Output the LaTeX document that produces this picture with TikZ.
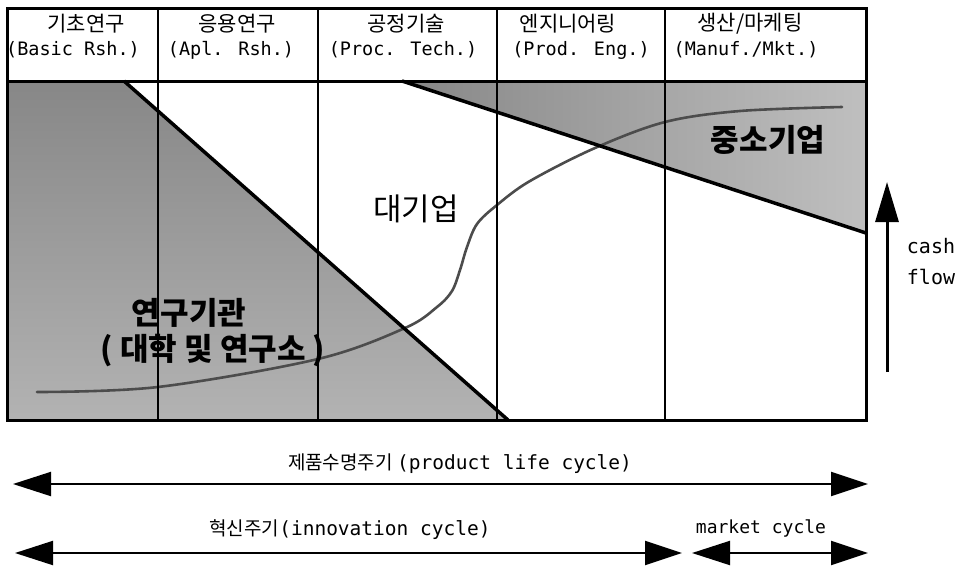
\documentclass[tikz,border=0pt]{standalone}
\usepackage{fontspec}
\setmainfont{Noto Sans CJK KR}
\newfontfamily\mono{DejaVu Sans Mono}
\usetikzlibrary{arrows.meta}
\begin{document}
\begin{tikzpicture}[x=1pt,y=-1pt,
  hdrk/.style={font=\fontsize{21}{23}\selectfont, inner sep=0pt},
  hdrl/.style={font=\mono\fontsize{18.5}{20}\selectfont, inner sep=0pt},
  biglbl/.style={font=\fontsize{31}{34}\selectfont, inner sep=0pt},
  boldlbl/.style={font=\bfseries\fontsize{31}{34}\selectfont, inner sep=0pt},
  cyclbl/.style={font=\fontsize{19}{21}\selectfont, inner sep=0pt},
  cycarrow/.style={line width=2pt, {Triangle[length=38pt,width=24pt]}-{Triangle[length=37pt,width=24pt]}},
  frame/.style={line width=3pt},
  colline/.style={line width=2pt},
  edge/.style={line width=3.5pt},
]
\useasboundingbox (0,0) rectangle (960,565);

% shaded regions
\shade[top color=black!47, bottom color=black!30] (7,81) -- (124,81) -- (508,420) -- (7,420) -- cycle;
\shade[left color=black!47, right color=black!25] (402,81) -- (866,81) -- (866,233) -- cycle;

% S-curve
\draw[black!70, line width=2.6pt, line cap=round] plot[smooth, tension=0.55] coordinates {
  (37,392) (158,387) (318,359) (405,328) (437,307) (452,291) (460,270)
  (467,247) (477,224) (497,205) (530,181) (595,148) (665,122) (740,111) (842,107)};

% boundary lines
\draw[edge] (124,81) -- (508,420);
\draw[edge] (402,81) -- (866,233);

% columns
\foreach \x in {158,318,497,665} \draw[colline] (\x,8) -- (\x,420);
\draw[frame] (7,81) -- (866,81);
\draw[frame] (7,8) rectangle (866,420);

% headers
\node[hdrk] (h1k) at (86,24) {기초연구};
\node[hdrl] (h1l) at (73,50) {(Basic Rsh.)};
\node[hdrk] (h2k) at (237,24) {응용연구};
\node[hdrl] (h2l) at (231,50) {(Apl. Rsh.)};
\node[hdrk] (h3k) at (406,24) {공정기술};
\node[hdrl] (h3l) at (403,50) {(Proc. Tech.)};
\node[hdrk] (h4k) at (568,24) {엔지니어링};
\node[hdrl] (h4l) at (581,50) {(Prod. Eng.)};
\node[hdrk] (h5k) at (750,24) {생산/마케팅};
\node[hdrl] (h5l) at (746,50) {(Manuf./Mkt.)};

% region labels
\node[biglbl] (big) at (416,209) {대기업};
\node[boldlbl] (sme) at (768,140) {중소기업};
\node[boldlbl] (res1) at (189,313) {연구기관};
\node[boldlbl] (res2) at (213,351) {( 대학 및 연구소 )};

% cash flow
\coordinate (cfb) at (887,372);
\coordinate (cft) at (887,182);
\draw[line width=3pt, -{Triangle[length=40pt,width=23pt]}] (cfb) -- (cft);
\node[font=\mono\fontsize{20}{31}\selectfont, inner sep=0pt, align=left] (cf) at (931,262) {cash\\flow};

% cycles
\coordinate (p1) at (13,484);
\coordinate (p2) at (868,484);
\coordinate (i1) at (15,553);
\coordinate (i2) at (682,553);
\coordinate (m1) at (692,553);
\coordinate (m2) at (868,553);
\draw[cycarrow] (p1) -- (p2);
\draw[cycarrow] (i1) -- (i2);
\draw[cycarrow] (m1) -- (m2);
\node[cyclbl] (plc) at (460,464) {제품수명주기 {\mono\fontsize{19.5}{21}\selectfont(product life cycle)}};
\node[cyclbl] (inn) at (350,530) {혁신주기{\mono\fontsize{19.5}{21}\selectfont(innovation cycle)}};
\node[font=\mono\fontsize{18}{20}\selectfont, inner sep=0pt] (mkt) at (761,528) {market cycle};
\end{tikzpicture}
\end{document}
